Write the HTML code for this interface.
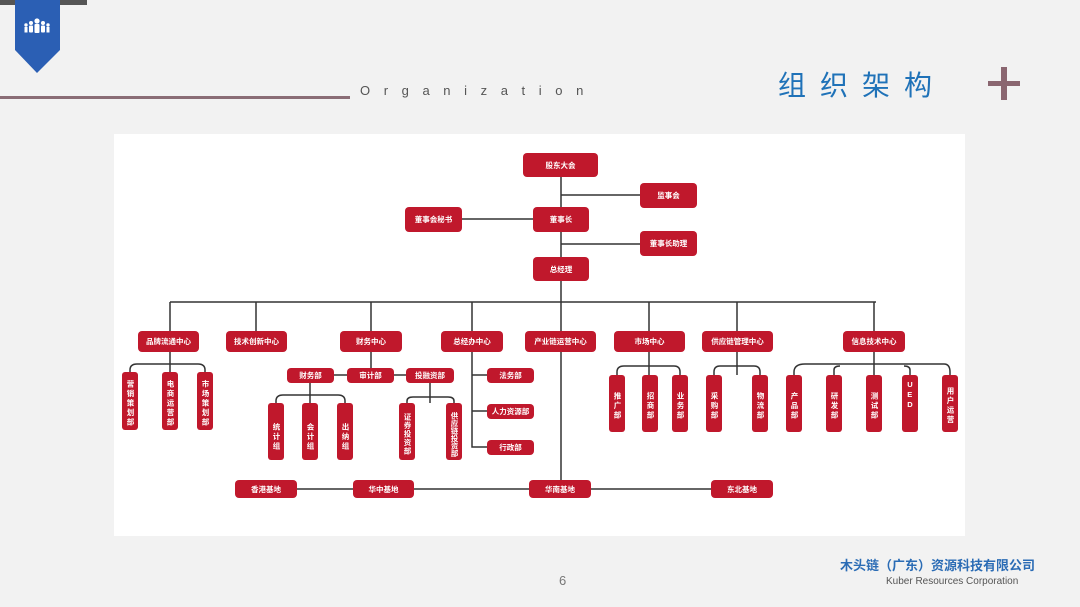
<!DOCTYPE html>
<html><head><meta charset="utf-8"><style>
*{margin:0;padding:0;box-sizing:border-box}
body{width:1080px;height:607px;background:#f2f2f2;position:relative;overflow:hidden;font-family:"Liberation Sans","Noto Sans CJK SC",sans-serif}
.a{position:absolute}
.n{position:absolute;background:#c0182c;color:#fff;border-radius:4px;font-size:7.5px;font-weight:bold;display:flex;align-items:center;justify-content:center;white-space:nowrap}
.v{position:absolute;background:#c0182c;color:#fff;border-radius:3px;font-size:7.5px;font-weight:bold;display:flex;justify-content:center;padding-top:5px;writing-mode:vertical-rl;line-height:16px;letter-spacing:2px}
</style></head><body>
<div class="a" style="left:0;top:0;width:87px;height:5px;background:#555"></div>
<svg class="a" style="left:0;top:0" width="80" height="80"><polygon points="15,0 60,0 60,50 37,73 15,50" fill="#2b5fb4"/>
<g fill="#fff"><circle cx="37" cy="21" r="2.6"/><rect x="34.5" y="24" width="5" height="9" rx="1"/><circle cx="31" cy="23" r="2"/><rect x="29" y="25.5" width="4" height="7" rx="1"/><circle cx="43" cy="23" r="2"/><rect x="41" y="25.5" width="4" height="7" rx="1"/><circle cx="26" cy="25" r="1.7"/><rect x="24.5" y="27" width="3" height="5.5"/><circle cx="48" cy="25" r="1.7"/><rect x="46.5" y="27" width="3" height="5.5"/></g></svg>
<div class="a" style="left:0;top:96px;width:350px;height:3px;background:#8a6d76"></div>
<div class="a" style="left:360px;top:83px;font-size:13px;color:#555;letter-spacing:13.6px">Organization</div>
<div class="a" style="left:778px;top:64px;font-size:28px;color:#1f72b8;letter-spacing:14px;font-family:'Noto Sans CJK SC',sans-serif">组织架构</div>
<div class="a" style="left:988px;top:81px;width:32px;height:5px;background:#8a6670"></div>
<div class="a" style="left:1001px;top:67px;width:6px;height:33px;background:#8a6670"></div>

<div class="a" style="left:114px;top:134px;width:851px;height:402px;background:#fff"></div>
<svg class="a" style="left:0;top:0" width="1080" height="607" fill="none" stroke="#333" stroke-width="1.5">
<path d="M561 177V480M561 195H640M561 244H640M462 219H533M170 302H876M170 302V331M256 302V331M371 302V331M472 302V331M649 302V331M737 302V331M874 302V331"/>
<path d="M170 352V372M130 372V370Q130 364 137 364H198Q205 364 205 370V372"/>
<path d="M371 352V368M334 375H347M394 375H406M310 383V403M276 403V401Q276 395 283 395H338Q345 395 345 401V403M430 383V403M407 403V401Q407 397 413 397H448Q454 397 454 401V403"/>
<path d="M472 352V447H487M472 375H487M472 411H487"/>
<path d="M649 352V375M617 375V372Q617 366 624 366H674Q680 366 680 372V375M737 352V375M714 375V372Q714 366 720 366H754Q760 366 760 372V375"/>
<path d="M874 352V375M794 375V372Q794 364 805 364H944Q950 364 950 372V375M834 375V370Q834 366 840 366M910 375V370Q910 366 904 366"/>
<path d="M297 489H711"/>
</svg>
<div class="n" style="left:523px;top:153px;width:75px;height:24px">股东大会</div>
<div class="n" style="left:640px;top:183px;width:57px;height:25px">监事会</div>
<div class="n" style="left:405px;top:207px;width:57px;height:25px">董事会秘书</div>
<div class="n" style="left:533px;top:207px;width:56px;height:25px">董事长</div>
<div class="n" style="left:640px;top:231px;width:57px;height:25px">董事长助理</div>
<div class="n" style="left:533px;top:257px;width:56px;height:24px">总经理</div>

<div class="n" style="left:138px;top:331px;width:61px;height:21px">品牌流通中心</div>
<div class="n" style="left:226px;top:331px;width:61px;height:21px">技术创新中心</div>
<div class="n" style="left:340px;top:331px;width:62px;height:21px">财务中心</div>
<div class="n" style="left:441px;top:331px;width:62px;height:21px">总经办中心</div>
<div class="n" style="left:525px;top:331px;width:71px;height:21px">产业链运营中心</div>
<div class="n" style="left:614px;top:331px;width:71px;height:21px">市场中心</div>
<div class="n" style="left:702px;top:331px;width:71px;height:21px">供应链管理中心</div>
<div class="n" style="left:843px;top:331px;width:62px;height:21px">信息技术中心</div>

<div class="v" style="left:122px;top:372px;width:16px;height:58px">营销策划部</div>
<div class="v" style="left:162px;top:372px;width:16px;height:58px">电商运营部</div>
<div class="v" style="left:197px;top:372px;width:16px;height:58px">市场策划部</div>

<div class="n" style="left:287px;top:368px;width:47px;height:15px">财务部</div>
<div class="n" style="left:347px;top:368px;width:47px;height:15px">审计部</div>
<div class="n" style="left:406px;top:368px;width:48px;height:15px">投融资部</div>
<div class="v" style="left:268px;top:403px;width:16px;height:57px;padding-top:12px">统计组</div>
<div class="v" style="left:302px;top:403px;width:16px;height:57px;padding-top:12px">会计组</div>
<div class="v" style="left:337px;top:403px;width:16px;height:57px;padding-top:12px">出纳组</div>
<div class="v" style="left:399px;top:403px;width:16px;height:57px;letter-spacing:1px">证券投资部</div>
<div class="v" style="left:446px;top:403px;width:16px;height:57px;letter-spacing:0">供应链投资部</div>

<div class="n" style="left:487px;top:368px;width:47px;height:15px">法务部</div>
<div class="n" style="left:487px;top:404px;width:47px;height:15px">人力资源部</div>
<div class="n" style="left:487px;top:440px;width:47px;height:15px">行政部</div>

<div class="v" style="left:609px;top:375px;width:16px;height:57px">推广部</div>
<div class="v" style="left:642px;top:375px;width:16px;height:57px">招商部</div>
<div class="v" style="left:672px;top:375px;width:16px;height:57px">业务部</div>
<div class="v" style="left:706px;top:375px;width:16px;height:57px">采购部</div>
<div class="v" style="left:752px;top:375px;width:16px;height:57px">物流部</div>
<div class="v" style="left:786px;top:375px;width:16px;height:57px">产品部</div>
<div class="v" style="left:826px;top:375px;width:16px;height:57px">研发部</div>
<div class="v" style="left:866px;top:375px;width:16px;height:57px">测试部</div>
<div class="v" style="left:902px;top:375px;width:16px;height:57px;writing-mode:horizontal-tb;flex-direction:column;align-items:center;justify-content:flex-start;line-height:10px;letter-spacing:0">U<br>E<br>D</div>
<div class="v" style="left:942px;top:375px;width:16px;height:57px">用户运营</div>

<div class="n" style="left:235px;top:480px;width:62px;height:18px">香港基地</div>
<div class="n" style="left:353px;top:480px;width:61px;height:18px">华中基地</div>
<div class="n" style="left:529px;top:480px;width:62px;height:18px">华南基地</div>
<div class="n" style="left:711px;top:480px;width:62px;height:18px">东北基地</div>

<div class="a" style="left:559px;top:573px;font-size:13px;color:#777">6</div>
<div class="a" style="left:840px;top:555px;font-size:13px;font-weight:bold;color:#2b6cb5;white-space:nowrap">木头链（广东）资源科技有限公司</div>
<div class="a" style="left:886px;top:576px;font-size:10px;color:#555;white-space:nowrap">Kuber Resources Corporation</div>
</body></html>
